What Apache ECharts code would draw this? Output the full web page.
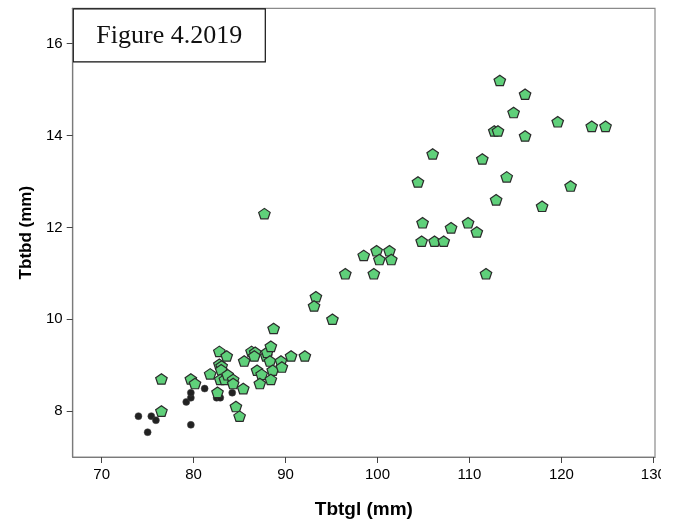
<!DOCTYPE html>
<html>
<head>
<meta charset="utf-8">
<script src="https://cdn.jsdelivr.net/npm/echarts@6/dist/echarts.min.js"></script>
<style>
html,body{margin:0;padding:0;background:#fff;}
#c{width:681px;height:524px;}
</style>
</head>
<body>
<div id="c"></div>
<script>
// Group shown as black dots: [Tbtgl, Tbtbd]
var blackPoints = [
  [74.0, 7.89], [75.4, 7.89], [75.9, 7.80], [75.0, 7.54],
  [79.2, 8.20], [79.7, 8.29], [79.7, 8.40], [79.7, 7.70],
  [81.2, 8.49], [82.5, 8.29], [82.9, 8.29], [84.2, 8.40]
];
// Group shown as green pentagons: [Tbtgl, Tbtbd]
var greenPoints = [
  [76.5, 8.70], [76.5, 8.00], [79.7, 8.70], [80.15, 8.60], [81.8, 8.81],
  [82.8, 9.30], [83.6, 9.20], [82.8, 9.02], [83.05, 8.98], [83.0, 8.90],
  [82.9, 8.69], [83.4, 8.69], [83.7, 8.79], [84.3, 8.69], [84.3, 8.60],
  [82.6, 8.41], [85.4, 8.49], [84.6, 8.10], [85.0, 7.89], [85.5, 9.09],
  [86.3, 9.30], [86.7, 9.28], [86.6, 9.20], [86.9, 8.89], [87.4, 8.80],
  [87.2, 8.60], [87.9, 9.20], [88.0, 9.28], [88.4, 9.41], [88.3, 9.09],
  [88.6, 8.89], [88.4, 8.69], [89.5, 9.09], [89.6, 8.96], [90.6, 9.20],
  [92.1, 9.20], [88.7, 9.80],
  [87.7, 12.30], [98.5, 11.39], [99.9, 11.49], [101.3, 11.49], [100.2, 11.30],
  [101.5, 11.30], [96.5, 10.99], [99.6, 10.99], [93.3, 10.49], [93.1, 10.29],
  [95.1, 10.00],
  [113.3, 15.20], [116.05, 14.90], [114.8, 14.50], [119.6, 14.30], [123.3, 14.20],
  [124.8, 14.20], [112.7, 14.10], [113.1, 14.10], [116.05, 13.99], [106.0, 13.60],
  [111.4, 13.49], [114.05, 13.10], [104.4, 12.99], [121.0, 12.90], [112.9, 12.60],
  [117.9, 12.46], [104.9, 12.10], [108.0, 11.99], [109.85, 12.10], [110.8, 11.90],
  [104.8, 11.70], [106.2, 11.70], [107.2, 11.70], [111.8, 10.99]
];
var xTicks = [70, 80, 90, 100, 110, 120, 130];
var yTicks = [8, 10, 12, 14, 16];
var xName = 'Tbtgl (mm)';
var yName = 'Tbtbd (mm)';
var figTitle = 'Figure 4.2019';

var pentagon = 'path://M0,-1 L0.951,-0.309 L0.588,0.809 L-0.588,0.809 L-0.951,-0.309 Z';
var sans = 'Liberation Sans, Arial, sans-serif';

var chart = echarts.init(document.getElementById('c'), null, {renderer: 'canvas'});
chart.setOption({
  animation: false,
  backgroundColor: '#fff',
  grid: {
    left: 72.7, right: 26, top: 8.3, bottom: 66.7,
    show: true, borderColor: '#8a8a8a', borderWidth: 1.2, backgroundColor: '#fff'
  },
  xAxis: {
    type: 'value', min: 66.85, max: 130.18,
    name: xName, nameLocation: 'middle', nameGap: 43,
    nameTextStyle: {fontFamily: sans, fontWeight: 'bold', fontSize: 19, color: '#000'},
    axisLine: {show: true, onZero: false, lineStyle: {color: '#7a7a7a', width: 1.2}},
    axisTick: {show: true, length: 6, customValues: xTicks, lineStyle: {color: '#444'}},
    axisLabel: {customValues: xTicks, margin: 10, fontFamily: sans, fontSize: 15, color: '#000'},
    splitLine: {show: false}
  },
  yAxis: {
    type: 'value', min: 7, max: 16.77,
    name: yName, nameLocation: 'middle', nameGap: 38, nameRotate: 90,
    nameTextStyle: {fontFamily: sans, fontWeight: 'bold', fontSize: 17, color: '#000'},
    axisLine: {show: true, onZero: false, lineStyle: {color: '#7a7a7a', width: 1.2}},
    axisTick: {show: true, length: 6, customValues: yTicks, lineStyle: {color: '#444'}},
    axisLabel: {customValues: yTicks, margin: 10, fontFamily: sans, fontSize: 15, color: '#000'},
    splitLine: {show: false}
  },
  series: [
    {
      type: 'scatter', data: blackPoints, symbol: 'circle', symbolSize: 7,
      itemStyle: {color: '#222', borderColor: '#444', borderWidth: 0.5, opacity: 1}
    },
    {
      type: 'scatter', data: greenPoints, symbol: pentagon, symbolKeepAspect: true,
      symbolSize: [11.5, 11],
      itemStyle: {color: '#5fd07a', borderColor: '#2b2b2b', borderWidth: 1.2, opacity: 1}
    }
  ],
  graphic: [
    {
      type: 'rect', z: 100, silent: true,
      shape: {x: 661, y: 462, width: 20, height: 28},
      style: {fill: '#fff'}
    },
    {
      type: 'group', z: 100, left: 72.7, top: 8.3,
      children: [
        {type: 'rect', shape: {x: 0, y: 0, width: 192, height: 53},
         style: {fill: '#fff', stroke: '#111', lineWidth: 1.2}},
        {type: 'text', x: 96, y: 27,
         style: {text: figTitle, fontFamily: 'Liberation Serif, Times New Roman, serif',
                 fontSize: 26, fill: '#111', align: 'center', verticalAlign: 'middle'}}
      ]
    }
  ]
});
</script>
</body>
</html>
